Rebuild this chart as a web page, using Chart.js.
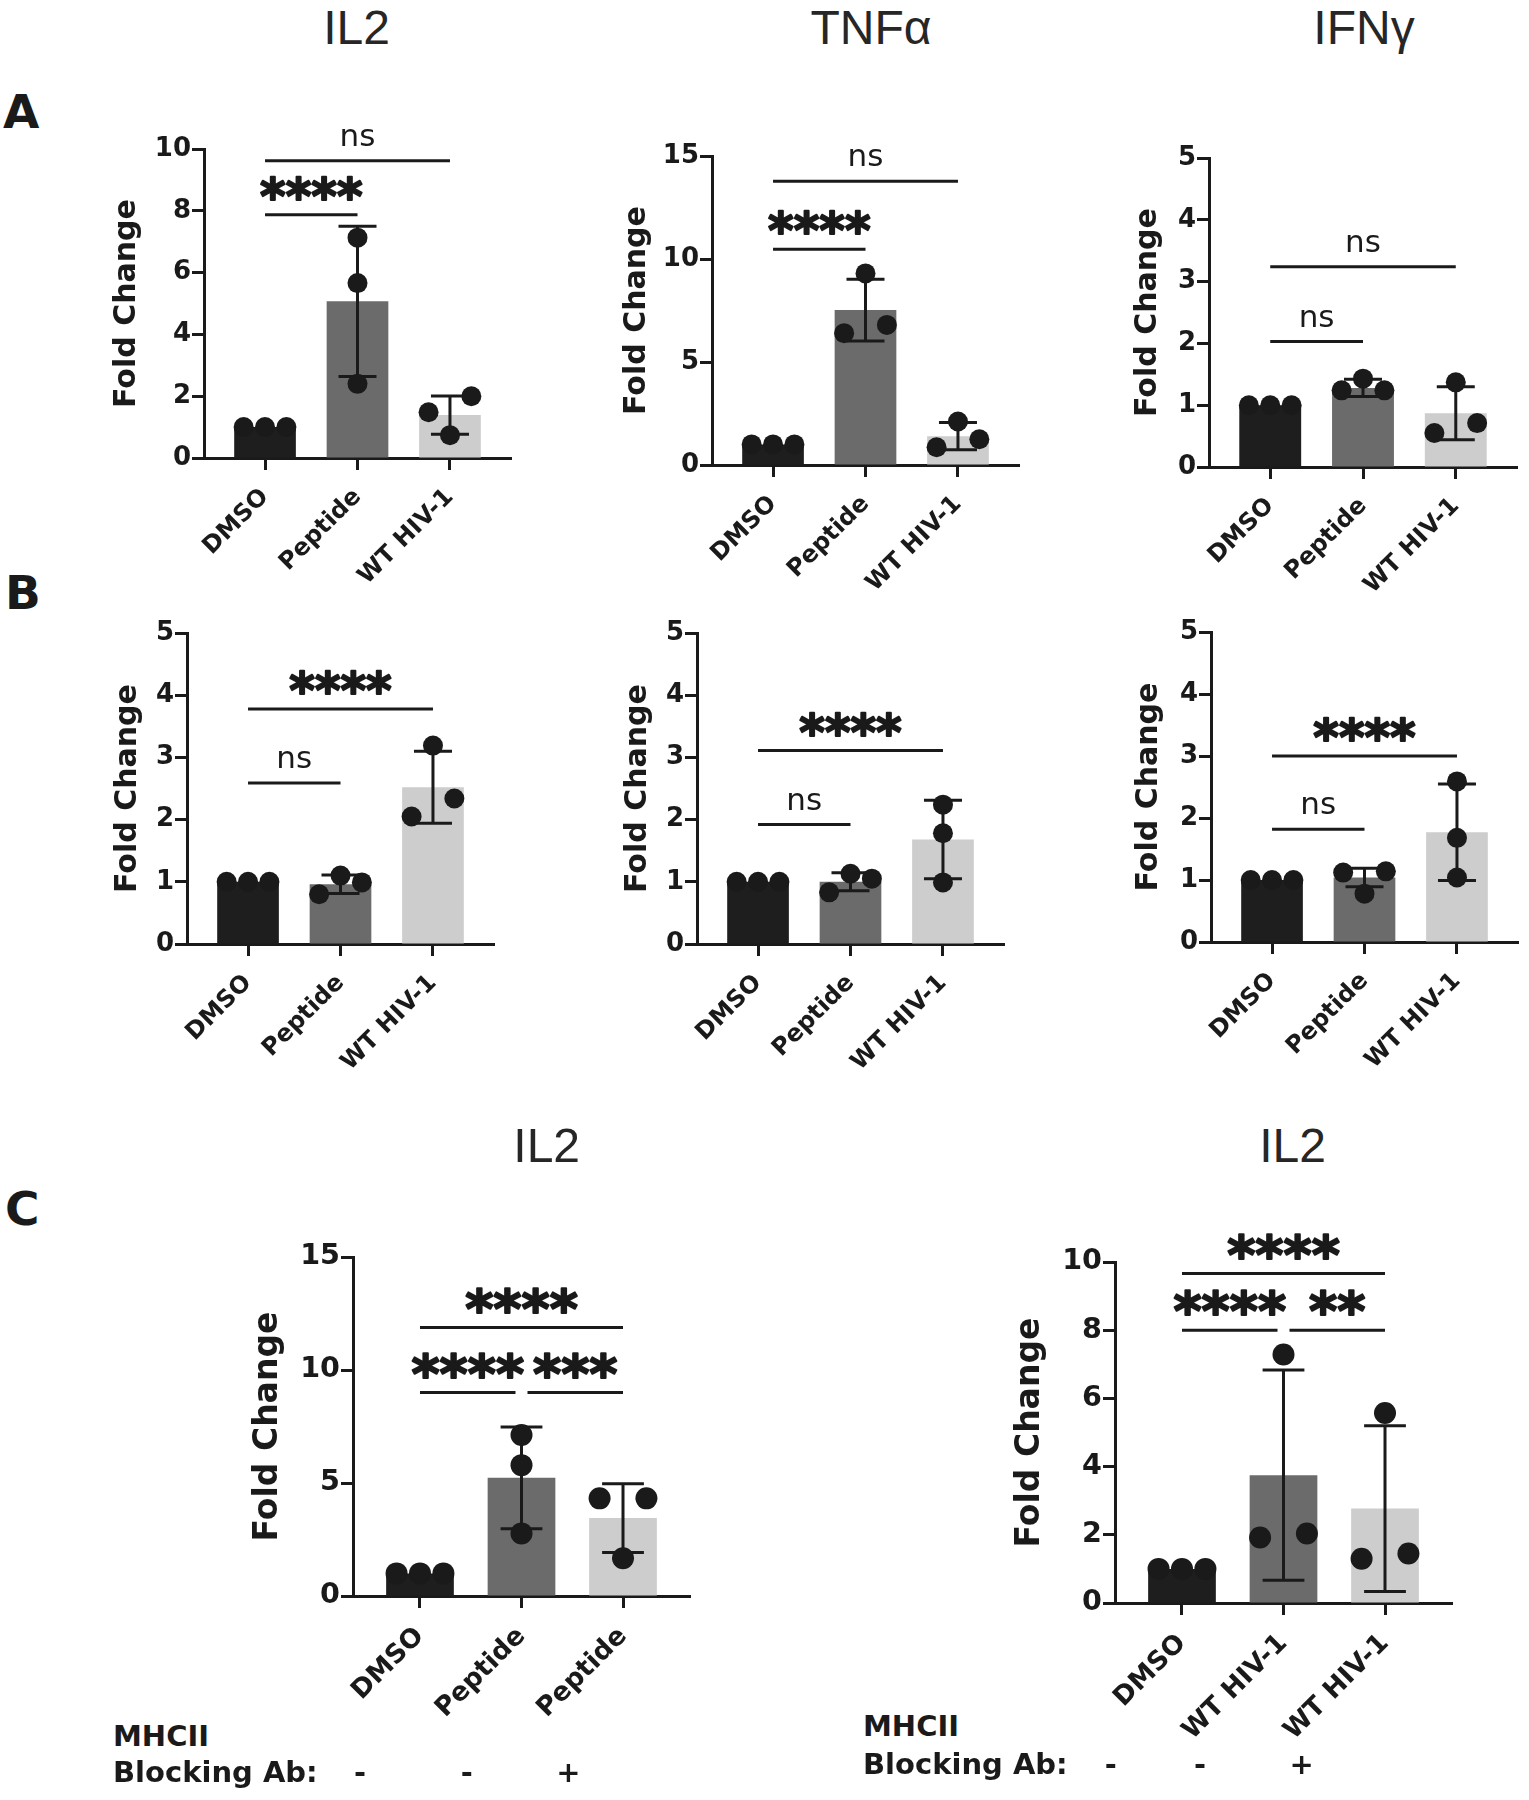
<!DOCTYPE html>
<html>
<head>
<meta charset="utf-8">
<script src="https://cdn.jsdelivr.net/npm/chart.js@4.4.1/dist/chart.umd.min.js"></script>
<style>
  body { margin: 0; background: #fff; }
  #fig { position: relative; width: 1529px; height: 1800px; overflow: hidden; }
  #fig canvas { position: absolute; }
  .txt { position: absolute; white-space: nowrap; font-family: "DejaVu Sans"; color: #1a1a1a; }
</style>
</head>
<body>
<div id="fig"></div>
<script>
// group names and the MHCII blocking row
const groupsAB = ['DMSO', 'Peptide', 'WT HIV-1'];
const groupsCPeptide = ['DMSO', 'Peptide', 'Peptide'];
const groupsCVirus = ['DMSO', 'WT HIV-1', 'WT HIV-1'];
const blockingAb = ['-', '-', '+'];

// A - IL2
const aIl2Points = [[1, 1, 1], [7.13, 5.66, 2.4], [2.0, 1.48, 0.74]];
const aIl2Mean = [1, 5.07, 1.39];
const aIl2Sd = [0, 2.43, 0.62];
const aIl2Ticks = [0, 2, 4, 6, 8, 10];
const aIl2Sig = [[0, 1, 7.87, '****'], [0, 2, 9.62, 'ns']];

// A - TNFa
const aTnfPoints = [[1, 1, 1], [9.3, 6.4, 6.8], [2.11, 0.86, 1.25]];
const aTnfMean = [1, 7.52, 1.40];
const aTnfSd = [0, 1.5, 0.66];
const aTnfTicks = [0, 5, 10, 15];
const aTnfSig = [[0, 1, 10.47, '****'], [0, 2, 13.78, 'ns']];

// A - IFNg
const aIfnPoints = [[1, 1, 1], [1.43, 1.24, 1.24], [1.37, 0.55, 0.71]];
const aIfnMean = [1, 1.28, 0.87];
const aIfnSd = [0, 0.14, 0.43];
const aIfnTicks = [0, 1, 2, 3, 4, 5];
const aIfnSig = [[0, 1, 2.03, 'ns'], [0, 2, 3.24, 'ns']];

// B - IL2
const bIl2Points = [[1, 1, 1], [1.10, 0.80, 0.99], [3.19, 2.05, 2.34]];
const bIl2Mean = [1, 0.96, 2.52];
const bIl2Sd = [0, 0.15, 0.58];
const bIl2Ticks = [0, 1, 2, 3, 4, 5];
const bIl2Sig = [[0, 1, 2.59, 'ns'], [0, 2, 3.78, '****']];

// B - TNFa
const bTnfPoints = [[1, 1, 1], [1.13, 0.83, 1.05], [2.24, 1.78, 0.99]];
const bTnfMean = [1, 1.0, 1.68];
const bTnfSd = [0, 0.145, 0.63];
const bTnfTicks = [0, 1, 2, 3, 4, 5];
const bTnfSig = [[0, 1, 1.92, 'ns'], [0, 2, 3.11, '****']];

// B - IFNg
const bIfnPoints = [[1, 1, 1], [1.14, 0.78, 1.12], [2.59, 1.68, 1.04]];
const bIfnMean = [1, 1.04, 1.77];
const bIfnSd = [0, 0.15, 0.78];
const bIfnTicks = [0, 1, 2, 3, 4, 5];
const bIfnSig = [[0, 1, 1.82, 'ns'], [0, 2, 3.0, '****']];

// C - IL2, peptide +/- MHCII block
const cPepPoints = [[1, 1, 1], [7.12, 5.79, 2.77], [4.32, 4.32, 1.67]];
const cPepMean = [1, 5.23, 3.45];
const cPepSd = [0, 2.25, 1.52];
const cPepTicks = [0, 5, 10, 15];
const cPepSig = [[0, 1, 9.0, '****'], [1, 2, 9.0, '***'], [0, 2, 11.88, '****']];

// C - IL2, WT HIV-1 +/- MHCII block
const cVirPoints = [[1, 1, 1], [7.29, 1.92, 2.04], [5.57, 1.30, 1.45]];
const cVirMean = [1, 3.75, 2.77];
const cVirSd = [0, 3.08, 2.43];
const cVirTicks = [0, 2, 4, 6, 8, 10];
const cVirSig = [[0, 1, 8.0, '****'], [1, 2, 8.0, '**'], [0, 2, 9.66, '****']];

const ink = '#1a1a1a';
const barFills = ['#1e1e1e', '#6b6b6b', '#cdcdcd'];
const fontFam = '"DejaVu Sans"';
const fig = document.getElementById('fig');

// where each plot sits on the page (axis x, top/bottom of y range, category pitch)
const panels = [
  { groups: groupsAB, points: aIl2Points, mean: aIl2Mean, sd: aIl2Sd, ticks: aIl2Ticks, sig: aIl2Sig,
    axisX: 204, yTop: 149, y0: 458, step: 93, titleGap: 77, k: 1 },
  { groups: groupsAB, points: aTnfPoints, mean: aTnfMean, sd: aTnfSd, ticks: aTnfTicks, sig: aTnfSig,
    axisX: 711.7, yTop: 156, y0: 465.4, step: 93, titleGap: 75, k: 1 },
  { groups: groupsAB, points: aIfnPoints, mean: aIfnMean, sd: aIfnSd, ticks: aIfnTicks, sig: aIfnSig,
    axisX: 1209.3, yTop: 157.5, y0: 466.9, step: 93.3, titleGap: 61, k: 1 },
  { groups: groupsAB, points: bIl2Points, mean: bIl2Mean, sd: bIl2Sd, ticks: bIl2Ticks, sig: bIl2Sig,
    axisX: 186.7, yTop: 632.7, y0: 943.3, step: 93, titleGap: 59, k: 1 },
  { groups: groupsAB, points: bTnfPoints, mean: bTnfMean, sd: bTnfSd, ticks: bTnfTicks, sig: bTnfSig,
    axisX: 696.7, yTop: 632.7, y0: 943.3, step: 93, titleGap: 59, k: 1 },
  { groups: groupsAB, points: bIfnPoints, mean: bIfnMean, sd: bIfnSd, ticks: bIfnTicks, sig: bIfnSig,
    axisX: 1211, yTop: 632.3, y0: 942.7, step: 93.2, titleGap: 62, k: 1 },
  { groups: groupsCPeptide, points: cPepPoints, mean: cPepMean, sd: cPepSd, ticks: cPepTicks, sig: cPepSig,
    axisX: 353.3, yTop: 1256.7, y0: 1596, step: 102.5, titleGap: 85, k: 1.1 },
  { groups: groupsCVirus, points: cVirPoints, mean: cVirMean, sd: cVirSd, ticks: cVirTicks, sig: cVirSig,
    axisX: 1115, yTop: 1261.7, y0: 1602.7, step: 102.5, titleGap: 85, k: 1.1 }
];

// spread overlapping replicate dots sideways, prism-style
function spread(vals, pxPerY, minGap) {
  const order = vals.map((v, i) => i).sort((a, b) => vals[a] - vals[b]);
  const clusters = [];
  let cur = [order[0]];
  for (let n = 1; n < order.length; n++) {
    if ((vals[order[n]] - vals[order[n - 1]]) * pxPerY < minGap) cur.push(order[n]);
    else { clusters.push(cur); cur = [order[n]]; }
  }
  clusters.push(cur);
  const off = vals.map(() => 0);
  clusters.forEach(c => {
    if (c.length === 2) { off[c[0]] = -1; off[c[1]] = 1; }
    if (c.length >= 3) { off[c[0]] = -1; off[c[1]] = 1; off[c[2]] = 0; }
  });
  return off;
}

function drawPanel(p) {
  const k = p.k;
  const xMin = -0.66, xMax = 2.66;
  const yMax = p.ticks[p.ticks.length - 1];
  const plotW = p.step * (xMax - xMin);
  const plotH = p.y0 - p.yTop;
  const W = 140, H = 170, padTop = 90, padRight = 8;
  const left = Math.round(p.axisX - W), top = Math.round(p.yTop - padTop);
  const cw = Math.round(W + plotW + padRight), ch = Math.round(padTop + plotH + H);
  const cv = document.createElement('canvas');
  cv.width = cw; cv.height = ch;
  Object.assign(cv.style, { left: left + 'px', top: top + 'px', width: cw + 'px', height: ch + 'px' });
  fig.appendChild(cv);

  const r = 10 * k;
  const slot = 2.15 * r / p.step;
  const dots = [];
  p.points.forEach((vals, g) => {
    const off = spread(vals, plotH / yMax, 2 * r);
    vals.forEach((v, i) => dots.push({ x: g + off[i] * slot, y: v }));
  });

  const marks = {
    id: 'marks',
    afterDatasetDraw(chart, args) {
      if (args.index !== 0) return;
      const { ctx, scales: { x, y } } = chart;
      const cap = 19 * k;
      ctx.save();
      ctx.strokeStyle = ink;
      ctx.lineWidth = 3;
      p.mean.forEach((m, g) => {
        if (!p.sd[g]) return;
        const cx = x.getPixelForValue(g);
        const yt = y.getPixelForValue(m + p.sd[g]);
        const yb = y.getPixelForValue(m - p.sd[g]);
        ctx.beginPath();
        ctx.moveTo(cx, yt); ctx.lineTo(cx, yb);
        ctx.moveTo(cx - cap, yt); ctx.lineTo(cx + cap, yt);
        ctx.moveTo(cx - cap, yb); ctx.lineTo(cx + cap, yb);
        ctx.stroke();
      });
      ctx.restore();
    },
    afterDatasetsDraw(chart) {
      const { ctx, scales: { x, y } } = chart;
      ctx.save();
      ctx.strokeStyle = ink;
      ctx.fillStyle = ink;
      ctx.textAlign = 'center';
      ctx.textBaseline = 'alphabetic';
      ctx.lineJoin = 'round';
      p.sig.forEach((s, i) => {
        const [from, to, level, label] = s;
        const shares = g => p.sig.some((o, j) => j !== i && o[2] === level && (o[0] === g || o[1] === g));
        let x1 = x.getPixelForValue(from), x2 = x.getPixelForValue(to);
        if (shares(from)) x1 += 6;
        if (shares(to)) x2 -= 6;
        const yy = y.getPixelForValue(level);
        ctx.lineWidth = 3;
        ctx.beginPath();
        ctx.moveTo(x1, yy); ctx.lineTo(x2, yy);
        ctx.stroke();
        const stars = label !== 'ns';
        ctx.font = stars ? `bold ${49 * k}px ${fontFam}` : `${31 * k}px ${fontFam}`;
        const m = ctx.measureText(label);
        const base = yy - 15 - m.actualBoundingBoxDescent;
        ctx.fillText(label, (x1 + x2) / 2, base);
        if (stars) {
          // prism stars are heavier than the font's asterisk
          ctx.lineWidth = 2;
          ctx.strokeText(label, (x1 + x2) / 2, base);
        }
      });
      ctx.restore();
    }
  };

  new Chart(cv, {
    type: 'bar',
    data: {
      datasets: [
        {
          data: p.mean.map((m, g) => ({ x: g, y: m })),
          backgroundColor: barFills,
          borderWidth: 0,
          barPercentage: 0.667,
          categoryPercentage: 1,
          order: 1
        },
        {
          type: 'scatter',
          data: dots,
          pointRadius: r,
          pointHoverRadius: r,
          pointBackgroundColor: ink,
          pointBorderWidth: 0,
          clip: false,
          order: 0
        }
      ]
    },
    options: {
      responsive: false,
      animation: false,
      devicePixelRatio: 1,
      events: [],
      layout: { padding: { top: padTop, right: padRight, left: 0, bottom: 0 } },
      plugins: { legend: { display: false }, tooltip: { enabled: false } },
      scales: {
        x: {
          type: 'linear', min: xMin, max: xMax, offset: false, z: 1,
          afterBuildTicks: s => { s.ticks = p.groups.map((_, i) => ({ value: i })); },
          afterFit: s => { s.height = H; },
          grid: { offset: false, drawOnChartArea: false, drawTicks: true, tickLength: 12, tickWidth: 3, tickColor: ink },
          border: { display: true, color: ink, width: 3 },
          ticks: {
            autoSkip: false, maxRotation: 45, minRotation: 45, padding: 13, color: ink,
            font: { family: fontFam, size: 24 * k, weight: 'bold' },
            callback: v => p.groups[v]
          }
        },
        y: {
          type: 'linear', min: 0, max: yMax, z: 1,
          afterBuildTicks: s => { s.ticks = p.ticks.map(v => ({ value: v })); },
          afterFit: s => { s.width = W; },
          grid: { drawOnChartArea: false, drawTicks: true, tickLength: 12, tickWidth: 3, tickColor: ink },
          border: { display: true, color: ink, width: 3 },
          ticks: { padding: 1, color: ink, font: { family: fontFam, size: 26 * k, weight: 'bold' } },
          title: {
            display: true, text: 'Fold Change', color: ink,
            font: { family: fontFam, size: 30 * k, weight: 'bold' },
            padding: { top: W - p.titleGap - 0.6 * 30 * k, bottom: 0 }
          }
        }
      }
    },
    plugins: [marks]
  });
}

function putText(str, x, base, size, weight, align, color, family) {
  const d = document.createElement('div');
  d.className = 'txt';
  d.textContent = str;
  d.style.fontSize = size + 'px';
  d.style.fontWeight = weight;
  d.style.lineHeight = size + 'px';
  if (family) d.style.fontFamily = family;
  // baseline offset for a line box of 1em
  const asc = family ? 0.85 : 0.846;
  d.style.left = x + 'px';
  d.style.top = (base - asc * size) + 'px';
  if (color) d.style.color = color;
  if (align === 'center') d.style.transform = 'translateX(-50%)';
  fig.appendChild(d);
}

panels.forEach(drawPanel);

// column titles and panel letters
const titleFont = '"Liberation Sans"';
putText('IL2', 356.5, 45, 48, 'normal', 'center', '#262626', titleFont);
putText('TNFα', 871, 45, 48, 'normal', 'center', '#262626', titleFont);
putText('IFNγ', 1364, 45, 48, 'normal', 'center', '#262626', titleFont);
putText('IL2', 546.7, 1163, 48, 'normal', 'center', '#262626', titleFont);
putText('IL2', 1292.5, 1163, 48, 'normal', 'center', '#262626', titleFont);
putText('A', 3, 128, 47, 'bold');
putText('B', 5, 609, 47, 'bold');
putText('C', 5, 1225, 47, 'bold');

// MHCII blocking rows under panel C
putText('MHCII', 113, 1747, 29, 'bold');
putText('Blocking Ab:', 113, 1783, 29, 'bold');
[360, 466.7, 568.3].forEach((x, i) => putText(blockingAb[i], x, 1783, 29, 'bold', 'center'));
putText('MHCII', 863, 1737, 29, 'bold');
putText('Blocking Ab:', 863, 1775, 29, 'bold');
[1110.7, 1200, 1301.7].forEach((x, i) => putText(blockingAb[i], x, 1775, 29, 'bold', 'center'));
</script>
</body>
</html>
